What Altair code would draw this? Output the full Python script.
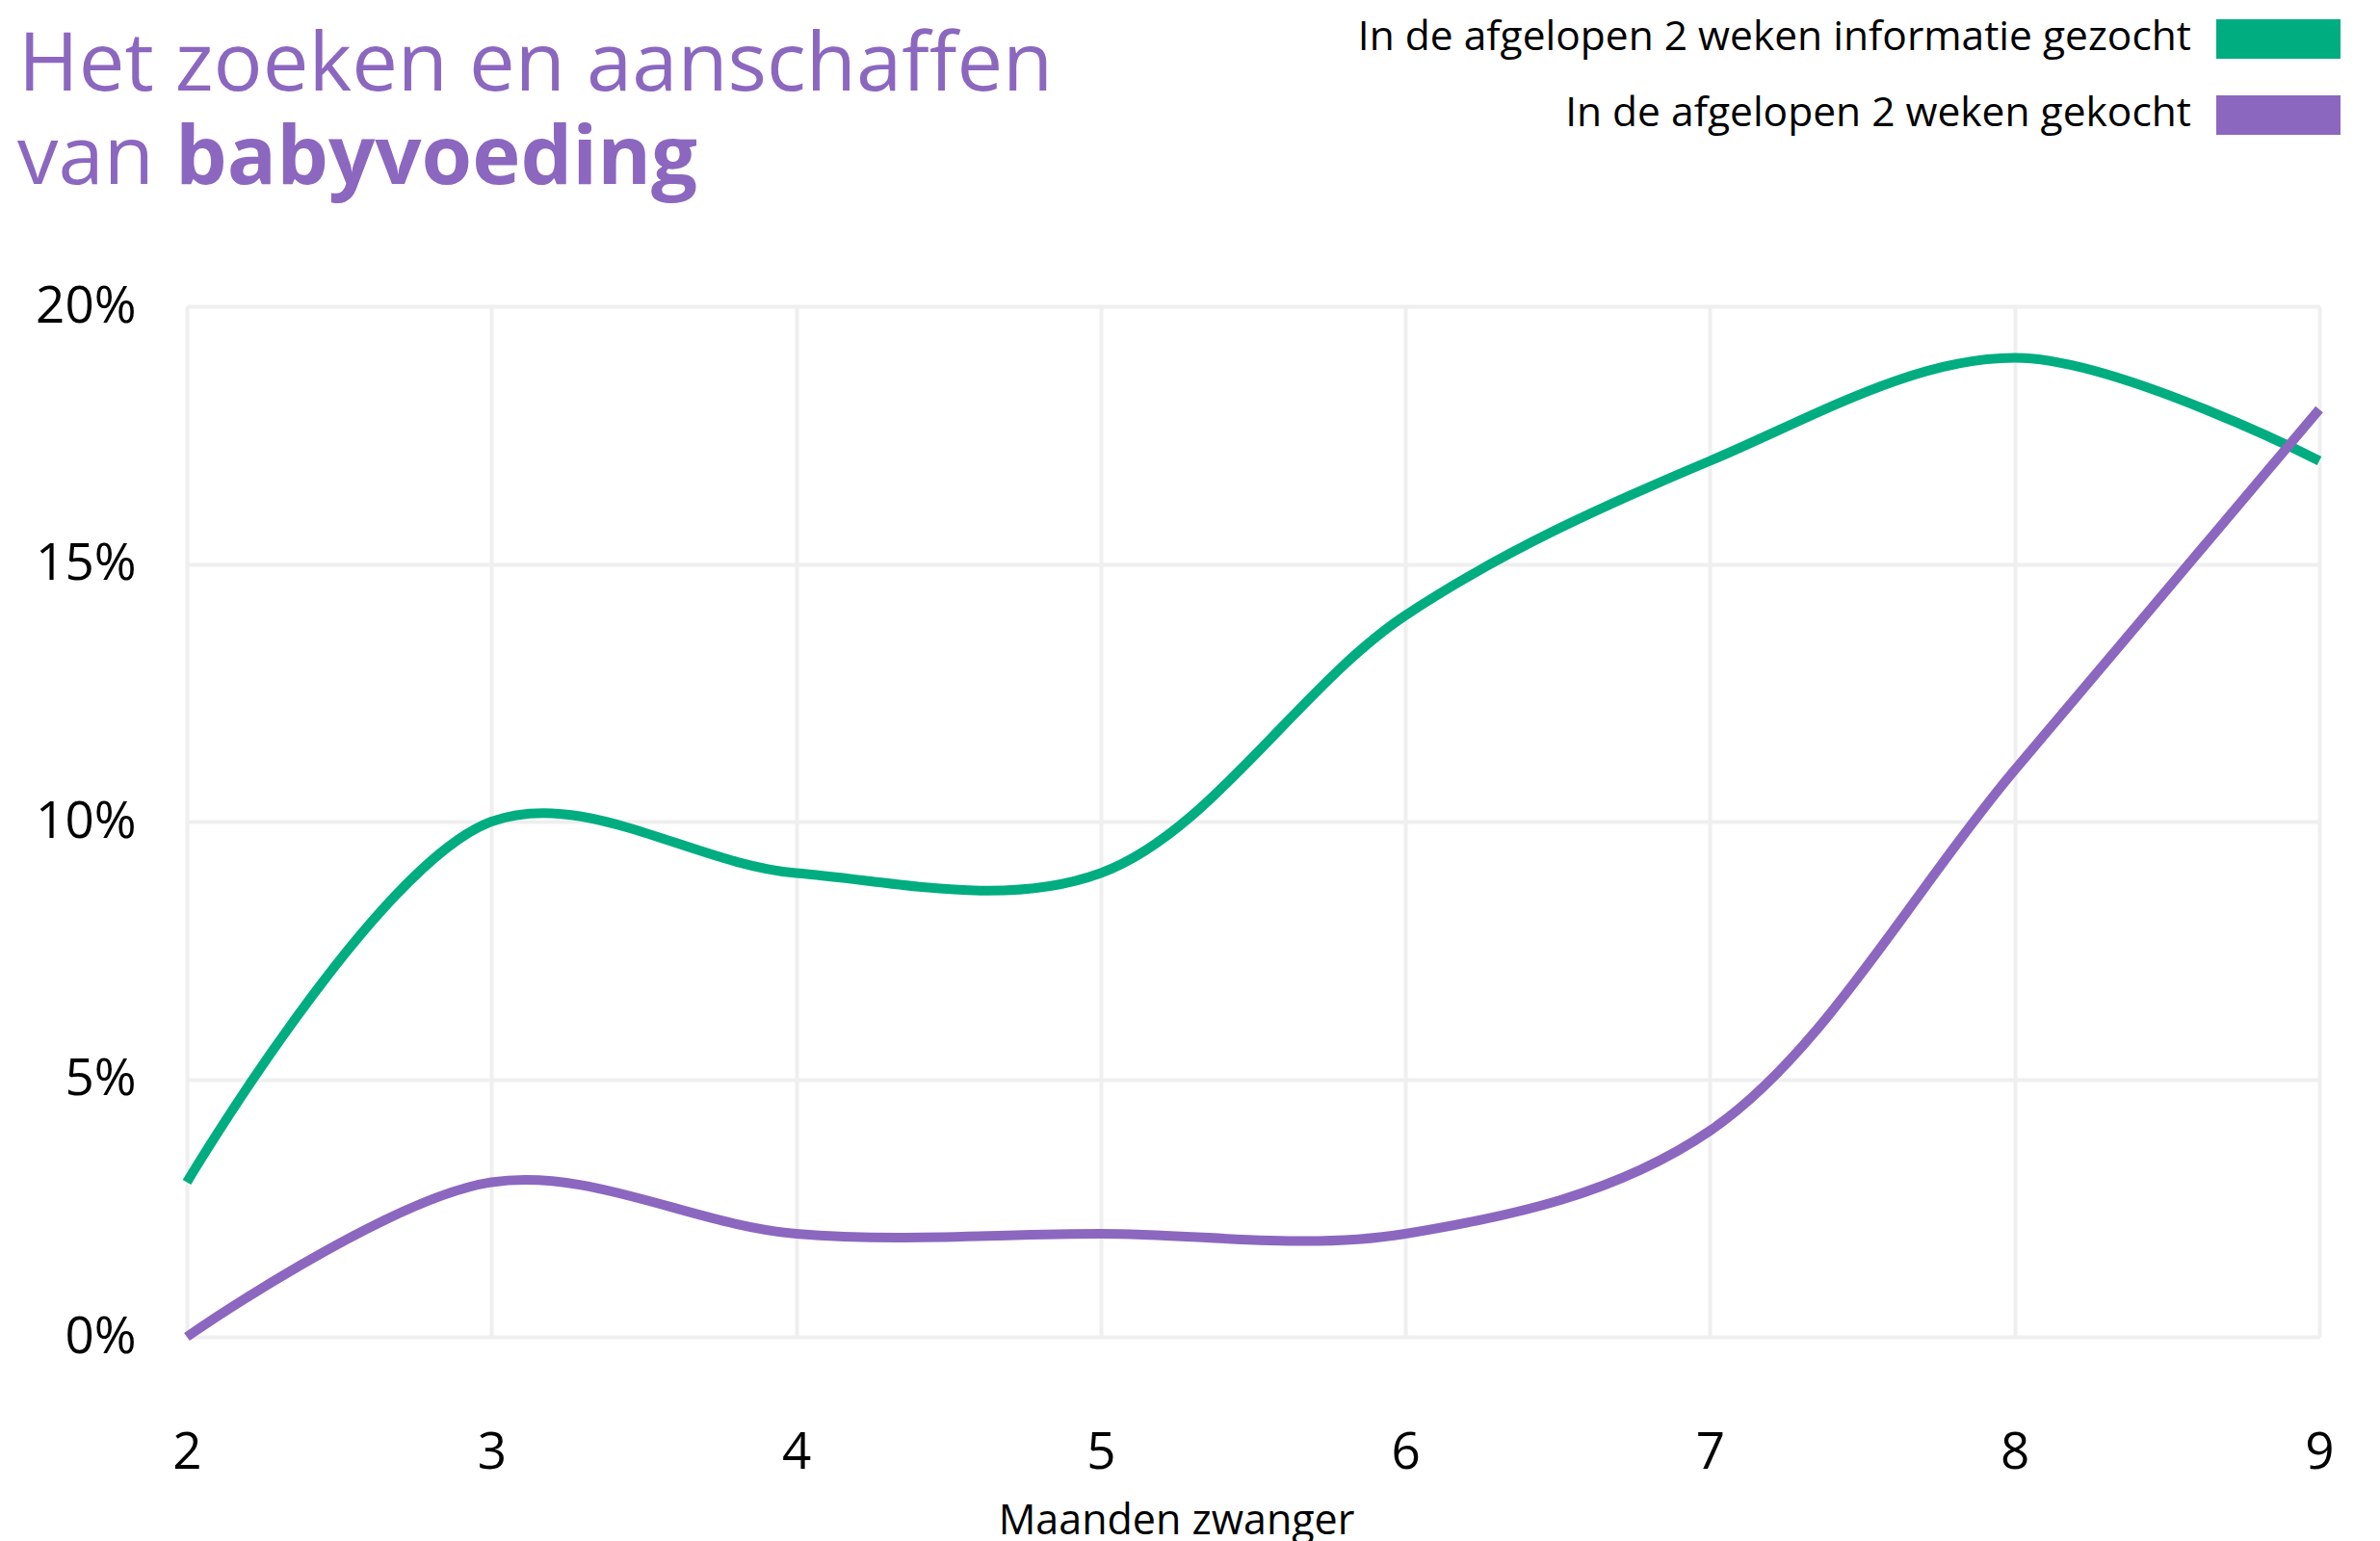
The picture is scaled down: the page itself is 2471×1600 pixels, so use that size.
import altair as alt
import pandas as pd

months = [2, 3, 4, 5, 6, 7, 8, 9]
series_names = ["In de afgelopen 2 weken informatie gezocht", "In de afgelopen 2 weken gekocht"]
info_gezocht = [3, 10, 9, 9, 14, 17, 19, 17]
gekocht = [0, 3, 2, 2, 2, 4, 11, 18]
y_ticks = [0, 5, 10, 15, 20]
colors = ["#00AD80", "#8C67BF"]
title_line1 = "Het zoeken en aanschaffen"
title_line2a = "van"
title_line2b = "babyvoeding"
x_title = "Maanden zwanger"

FONT = "Open Sans"
PURPLE = "#8C67BF"

rows = []
for name, vals in zip(series_names, [info_gezocht, gekocht]):
    for m, v in zip(months, vals):
        rows.append({"maand": m, "pct": v, "reeks": name})
df = pd.DataFrame(rows)

W, H = 2214, 1070

lines = alt.Chart(df).mark_line(strokeWidth=10, interpolate="catmull-rom", strokeCap="butt").encode(
    x=alt.X("maand:Q", scale=alt.Scale(domain=[2, 9], nice=False, zero=False),
            axis=alt.Axis(values=months, grid=True, gridColor="#EFEFEF", gridWidth=4,
                          domain=False, ticks=False, tickSize=0, labelFont=FONT, labelFontSize=53,
                          labelColor="#000000", labelBaseline="alphabetic", labelPadding=136,
                          title=x_title, titleFont=FONT, titleFontSize=43, titleFontWeight="normal",
                          titleColor="#000000", titleX=1027, titleY=204, titleBaseline="alphabetic",
                          titleAlign="center", labelFlush=False)),
    y=alt.Y("pct:Q", scale=alt.Scale(domain=[0, 20], nice=False),
            axis=alt.Axis(values=y_ticks, grid=True, gridColor="#EFEFEF", gridWidth=4,
                          domain=False, ticks=False, tickSize=0, labelFont=FONT, labelFontSize=53,
                          labelColor="#000000", labelPadding=53, labelExpr="datum.value + '%'",
                          title=None)),
    color=alt.Color("reeks:N", scale=alt.Scale(domain=series_names, range=colors), legend=None),
)

def text_layer(txt, x, y, size, weight, color, align="left", baseline="alphabetic"):
    return alt.Chart(pd.DataFrame({"t": [txt]})).mark_text(
        font=FONT, fontSize=size, fontWeight=weight, color=color, align=align, baseline=baseline
    ).encode(x=alt.value(x), y=alt.value(y), text="t:N")

t1 = text_layer(title_line1, -175, -224, 85, "normal", PURPLE)
t2 = text_layer(title_line2a, -176, -127, 85, "normal", PURPLE)
t3 = text_layer(title_line2b, -12, -127, 85, "bold", PURPLE)

leg_layers = []
for i, (name, col) in enumerate(zip(series_names, colors)):
    top = -298 + i * 79
    leg_layers.append(
        alt.Chart(pd.DataFrame({"t": [name]})).mark_rect(color=col).encode(
            x=alt.value(2107), x2=alt.value(2236), y=alt.value(top), y2=alt.value(top + 41))
    )
    leg_layers.append(text_layer(name, 2081, top + 19, 42.5, "normal", "#000000", align="right", baseline="middle"))

chart = alt.layer(lines, t1, t2, t3, *leg_layers).properties(
    width=W, height=H,
    autosize=alt.AutoSizeParams(type="none"),
    padding={"left": 186, "top": 310, "right": 55, "bottom": 212},
).configure_view(stroke=None).configure(background="white")

chart.save("out.html", embed_options={"renderer": "svg", "actions": False})
